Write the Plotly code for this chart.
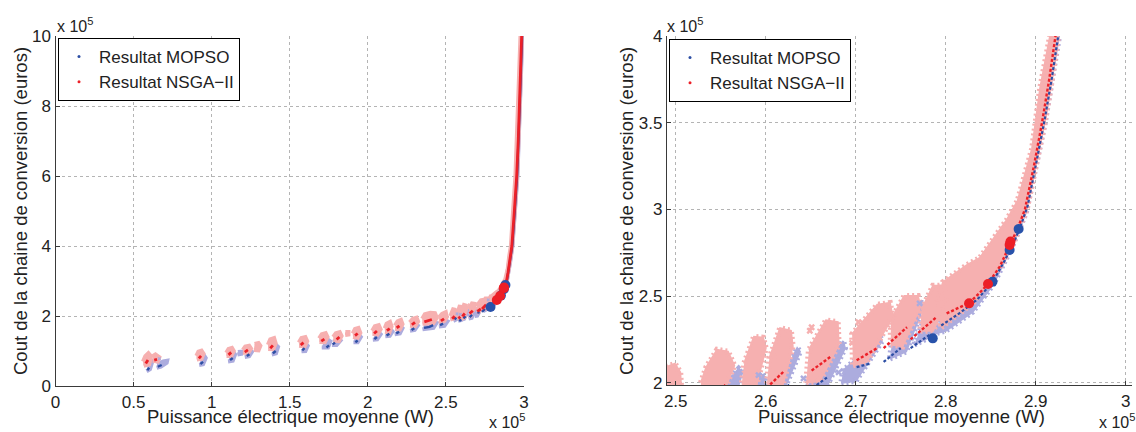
import plotly.graph_objects as go

# ---------------- data (power in 1e5 W, cost in 1e5 euros) ----------------
x_ticks_left = [0, 0.5, 1, 1.5, 2, 2.5, 3]
x_ticklabels_left = ["0", "0.5", "1", "1.5", "2", "2.5", "3"]
y_ticks_left = [0, 2, 4, 6, 8, 10]
y_ticklabels_left = ["0", "2", "4", "6", "8", "10"]
x_ticks_right = [2.5, 2.6, 2.7, 2.8, 2.9, 3.0]
x_ticklabels_right = ["2.5", "2.6", "2.7", "2.8", "2.9", "3"]
y_ticks_right = [2, 2.5, 3, 3.5, 4]
y_ticklabels_right = ["2", "2.5", "3", "3.5", "4"]

series_names = ["Resultat MOPSO", "Resultat NSGA\u2212II"]

# NSGA-II population clouds (outlines of the dense pink point clouds)
nsga_clouds = [
    [(0.565, 0.58), (0.600, 0.62), (0.612, 0.85), (0.595, 0.94), (0.575, 0.85), (0.560, 0.70)],
    [(0.622, 0.72), (0.655, 0.70), (0.665, 0.82), (0.640, 0.90), (0.622, 0.85)],
    [(0.905, 0.76), (0.935, 0.78), (0.948, 0.92), (0.935, 1.01), (0.915, 0.98), (0.902, 0.86)],
    [(1.095, 0.86), (1.125, 0.86), (1.142, 1.00), (1.130, 1.09), (1.108, 1.06), (1.093, 0.95)],
    [(1.200, 0.95), (1.235, 0.95), (1.252, 1.07), (1.240, 1.15), (1.215, 1.13), (1.200, 1.03)],
    [(1.270, 1.03), (1.300, 1.02), (1.312, 1.15), (1.300, 1.23), (1.275, 1.20)],
    [(1.362, 1.06), (1.395, 1.05), (1.410, 1.22), (1.400, 1.37), (1.375, 1.33), (1.360, 1.18)],
    [(1.560, 1.15), (1.595, 1.13), (1.612, 1.28), (1.600, 1.40), (1.575, 1.37), (1.558, 1.24)],
    [(1.690, 1.26), (1.725, 1.25), (1.742, 1.40), (1.730, 1.51), (1.705, 1.48), (1.688, 1.36)],
    [(1.780, 1.30), (1.815, 1.28), (1.832, 1.43), (1.820, 1.54), (1.795, 1.51), (1.778, 1.40)],
    [(1.855, 1.46), (1.876, 1.47), (1.876, 1.54), (1.856, 1.54)],
    [(1.905, 1.40), (1.935, 1.38), (1.952, 1.52), (1.940, 1.66), (1.918, 1.63), (1.903, 1.50)],
    [(2.030, 1.49), (2.062, 1.47), (2.082, 1.62), (2.070, 1.74), (2.045, 1.71), (2.028, 1.58)],
    [(2.110, 1.55), (2.138, 1.53), (2.152, 1.70), (2.142, 1.83), (2.120, 1.78), (2.108, 1.65)],
    [(2.175, 1.63), (2.205, 1.62), (2.222, 1.77), (2.212, 1.89), (2.190, 1.85), (2.173, 1.73)],
    [(2.270, 1.72), (2.302, 1.71), (2.322, 1.84), (2.312, 1.95), (2.288, 1.92), (2.268, 1.82)],
    [(2.350, 1.78), (2.420, 1.80), (2.442, 1.95), (2.430, 2.08), (2.400, 2.09), (2.365, 2.05), (2.348, 1.92)],
    [(2.455, 1.80), (2.490, 1.86), (2.506, 1.97), (2.505, 2.06), (2.499, 2.11), (2.475, 2.06), (2.455, 1.96)],
    [(2.528, 1.90), (2.552, 1.93), (2.565, 2.10), (2.558, 2.18), (2.546, 2.19), (2.534, 2.09), (2.528, 2.00)],
    [(2.572, 1.93), (2.588, 1.95), (2.600, 2.20), (2.597, 2.26), (2.587, 2.265), (2.576, 2.11)],
    [(2.600, 1.92), (2.617, 1.95), (2.630, 2.21), (2.628, 2.30), (2.616, 2.315), (2.604, 2.14)],
    [(2.645, 2.00), (2.660, 2.01), (2.681, 2.22), (2.680, 2.35), (2.667, 2.36), (2.648, 2.19)],
    [(2.697, 2.10), (2.712, 2.12), (2.741, 2.38), (2.738, 2.46), (2.724, 2.45), (2.696, 2.28)],
    [(2.739, 2.22), (2.752, 2.21), (2.772, 2.44), (2.769, 2.50), (2.754, 2.50), (2.739, 2.36)],
    [(2.772, 2.30), (2.786, 2.30), (2.800, 2.46), (2.798, 2.56), (2.786, 2.56), (2.773, 2.42)],
    [(2.795, 2.32), (2.815, 2.40), (2.830, 2.46), (2.845, 2.56), (2.862, 2.68), (2.876, 2.82),
     (2.890, 3.00), (2.900, 3.25), (2.910, 3.50), (2.918, 3.75), (2.925, 4.00), (2.941, 5.00),
     (2.956, 6.00), (2.973, 8.00), (2.988, 10.2), (2.979, 10.2), (2.962, 8.00), (2.945, 6.00),
     (2.930, 5.00), (2.916, 4.00), (2.905, 3.70), (2.896, 3.35), (2.880, 3.05), (2.868, 2.94),
     (2.842, 2.75), (2.838, 2.72), (2.824, 2.68), (2.797, 2.58), (2.790, 2.45)],
]

# MOPSO swarm clouds (outlines of the lavender point clouds)
mopso_clouds = [
    [(0.583, 0.42), (0.605, 0.48), (0.620, 0.70), (0.610, 0.75), (0.590, 0.60)],
    [(0.648, 0.52), (0.675, 0.55), (0.712, 0.66), (0.715, 0.72), (0.690, 0.70), (0.650, 0.62)],
    [(0.920, 0.60), (0.945, 0.62), (0.962, 0.80), (0.950, 0.88), (0.930, 0.76)],
    [(1.105, 0.70), (1.135, 0.72), (1.150, 0.90), (1.138, 0.96), (1.115, 0.83)],
    [(1.165, 0.90), (1.190, 0.92), (1.192, 0.98), (1.168, 0.97)],
    [(1.212, 0.83), (1.240, 0.85), (1.258, 0.98), (1.245, 1.02), (1.222, 0.92)],
    [(1.385, 0.90), (1.412, 0.93), (1.425, 1.12), (1.410, 1.18), (1.392, 1.05)],
    [(1.575, 0.99), (1.600, 1.00), (1.615, 1.15), (1.605, 1.20), (1.582, 1.10)],
    [(1.705, 1.10), (1.745, 1.10), (1.760, 1.27), (1.745, 1.32), (1.715, 1.22)],
    [(1.770, 1.17), (1.800, 1.17), (1.825, 1.30), (1.810, 1.36), (1.780, 1.27)],
    [(1.908, 1.25), (1.935, 1.25), (1.955, 1.40), (1.945, 1.45), (1.915, 1.35)],
    [(2.032, 1.32), (2.060, 1.33), (2.082, 1.48), (2.070, 1.53), (2.040, 1.42)],
    [(2.112, 1.42), (2.140, 1.43), (2.158, 1.56), (2.148, 1.61), (2.120, 1.52)],
    [(2.172, 1.48), (2.205, 1.50), (2.222, 1.65), (2.210, 1.70), (2.182, 1.58)],
    [(2.270, 1.58), (2.300, 1.60), (2.320, 1.73), (2.308, 1.78), (2.280, 1.67)],
    [(2.350, 1.62), (2.420, 1.66), (2.440, 1.80), (2.420, 1.84), (2.360, 1.75)],
    [(2.455, 1.70), (2.490, 1.72), (2.510, 1.85), (2.495, 1.88), (2.462, 1.80)],
    [(2.548, 1.86), (2.565, 1.90), (2.574, 2.06), (2.570, 2.08), (2.556, 2.00), (2.548, 1.95)],
    [(2.578, 1.86), (2.596, 1.88), (2.600, 2.03), (2.592, 2.06), (2.582, 1.96)],
    [(2.607, 1.90), (2.617, 1.92), (2.638, 2.18), (2.635, 2.20), (2.624, 2.08), (2.609, 2.00)],
    [(2.645, 1.93), (2.665, 1.95), (2.688, 2.20), (2.686, 2.24), (2.670, 2.12), (2.650, 2.04)],
    [(2.684, 2.00), (2.700, 2.01), (2.729, 2.24), (2.726, 2.28), (2.708, 2.17), (2.686, 2.07)],
    [(2.738, 2.14), (2.756, 2.18), (2.775, 2.44), (2.772, 2.47), (2.760, 2.35), (2.740, 2.22)],
    [(2.765, 2.22), (2.785, 2.27), (2.796, 2.42), (2.794, 2.45), (2.776, 2.36)],
    [(2.785, 2.28), (2.800, 2.30), (2.830, 2.41), (2.853, 2.57), (2.874, 2.79), (2.889, 2.98),
     (2.910, 3.50), (2.926, 4.00), (2.958, 6.00), (2.990, 10.1), (2.984, 10.1), (2.953, 6.00),
     (2.920, 4.00), (2.905, 3.50), (2.885, 3.00), (2.870, 2.80), (2.845, 2.58), (2.820, 2.45),
     (2.795, 2.36)],
]

# non-dominated fronts
nsga_front = [
    [(0.578, 0.64), (0.592, 0.74)], [(0.632, 0.74), (0.650, 0.76)], [(0.918, 0.79), (0.932, 0.86)],
    [(1.108, 0.89), (1.125, 0.96)], [(1.212, 0.97), (1.232, 1.03)], [(1.375, 1.08), (1.392, 1.16)],
    [(1.570, 1.17), (1.588, 1.24)], [(1.702, 1.28), (1.722, 1.34)], [(1.800, 1.33), (1.818, 1.40)],
    [(1.918, 1.44), (1.935, 1.50)], [(2.040, 1.50), (2.058, 1.57)], [(2.122, 1.58), (2.140, 1.64)],
    [(2.185, 1.66), (2.202, 1.72)], [(2.282, 1.75), (2.302, 1.82)],
    [(2.362, 1.83), (2.385, 1.86), (2.410, 1.90)], [(2.468, 1.86), (2.488, 1.92)],
    [(2.540, 1.92), (2.556, 1.99)], [(2.580, 1.93), (2.592, 1.98)], [(2.605, 1.99), (2.621, 2.07)],
    [(2.651, 2.07), (2.672, 2.15)], [(2.701, 2.13), (2.724, 2.20)], [(2.731, 2.20), (2.757, 2.32)],
    [(2.761, 2.25), (2.790, 2.38)],
    [(2.801, 2.40), (2.826, 2.46), (2.838, 2.52), (2.847, 2.57), (2.860, 2.67), (2.872, 2.80),
     (2.880, 2.89), (2.888, 3.00), (2.898, 3.25), (2.907, 3.50), (2.915, 3.75), (2.922, 4.00),
     (2.938, 5.00), (2.953, 6.00), (2.963, 7.00), (2.970, 8.00), (2.978, 9.00), (2.985, 10.0)],
]
mopso_front = [
    [(0.588, 0.45), (0.600, 0.52)], [(0.655, 0.55), (0.680, 0.60)], [(0.928, 0.63), (0.945, 0.69)],
    [(1.118, 0.74), (1.135, 0.80)], [(1.225, 0.86), (1.242, 0.91)], [(1.392, 0.93), (1.410, 1.00)],
    [(1.580, 1.02), (1.595, 1.08)], [(1.735, 1.10), (1.752, 1.16)], [(1.775, 1.19), (1.790, 1.24)],
    [(1.920, 1.25), (1.935, 1.30)], [(2.042, 1.34), (2.058, 1.40)], [(2.120, 1.44), (2.138, 1.49)],
    [(2.182, 1.50), (2.200, 1.55)], [(2.280, 1.60), (2.298, 1.65)],
    [(2.360, 1.66), (2.395, 1.69), (2.418, 1.74)], [(2.462, 1.74), (2.482, 1.78)],
    [(2.555, 1.90), (2.566, 1.96)], [(2.585, 1.86), (2.598, 1.90)], [(2.612, 1.93), (2.626, 1.99)],
    [(2.652, 1.97), (2.668, 2.03)], [(2.701, 2.09), (2.716, 2.11)], [(2.731, 2.12), (2.750, 2.20)],
    [(2.761, 2.20), (2.783, 2.28)],
    [(2.795, 2.33), (2.815, 2.40), (2.835, 2.48), (2.852, 2.58), (2.865, 2.70), (2.875, 2.80),
     (2.883, 2.90), (2.891, 3.02), (2.901, 3.28), (2.910, 3.52), (2.918, 3.76), (2.925, 4.00),
     (2.941, 5.00), (2.956, 6.00), (2.973, 8.00), (2.988, 10.0)],
]

# isolated evaluated points
nsga_stray_x = [2.608, 2.649, 2.696, 2.651, 2.703]
nsga_stray_y = [2.15, 2.30, 2.23, 2.32, 2.35]
mopso_stray_x = [2.642, 2.592, 2.571, 2.681, 2.688, 2.771, 0.665]
mopso_stray_y = [2.025, 2.044, 2.063, 2.060, 2.065, 2.458, 0.78]

# highlighted solutions
mopso_sel_x = [2.7856, 2.852, 2.871, 2.881]
mopso_sel_y = [2.256, 2.583, 2.766, 2.887]
nsga_sel_x = [2.826, 2.847, 2.871, 2.872]
nsga_sel_y = [2.458, 2.570, 2.795, 2.814]

# ---------------- styling ----------------
FONT = "Liberation Sans, Arial, Helvetica, sans-serif"
PINK = "rgb(246,176,176)"
LAV = "rgb(172,172,222)"
RED = "rgb(236,32,40)"
BLUE = "rgb(44,78,164)"
BIGBLUE = "rgb(40,82,170)"
BIGRED = "rgb(236,30,38)"
TXT = "#222222"


def flatten(polys, close=False):
    xs, ys = [], []
    for poly in polys:
        pts = list(poly) + ([poly[0]] if close else [])
        for a, b in pts:
            xs.append(a)
            ys.append(b)
        xs.append(None)
        ys.append(None)
    return xs, ys


nc_x, nc_y = flatten(nsga_clouds)
mc_x, mc_y = flatten(mopso_clouds)
ncc_x, ncc_y = flatten(nsga_clouds, close=True)
mcc_x, mcc_y = flatten(mopso_clouds, close=True)
nf_x, nf_y = flatten(nsga_front)
mf_x, mf_y = flatten(mopso_front)

fig = go.Figure()

for ax, ay, legname, right in [("x", "y", "legend", False), ("x2", "y2", "legend2", True)]:
    edge = 2 if right else 4
    fig.add_trace(go.Scatter(x=mc_x, y=mc_y, mode="lines", fill="toself", fillcolor=LAV,
                             line=dict(width=edge, color=LAV), showlegend=False,
                             hoverinfo="skip", xaxis=ax, yaxis=ay))
    if right:
        # speckled fringe of the swarm cloud
        fig.add_trace(go.Scatter(x=mcc_x, y=mcc_y, mode="lines",
                                 line=dict(width=6, color=LAV, dash="2px,3px"),
                                 showlegend=False, hoverinfo="skip", xaxis=ax, yaxis=ay))
    fig.add_trace(go.Scatter(x=nc_x, y=nc_y, mode="lines", fill="toself", fillcolor=PINK,
                             line=dict(width=edge, color=PINK), showlegend=False,
                             hoverinfo="skip", xaxis=ax, yaxis=ay))
    if right:
        fig.add_trace(go.Scatter(x=ncc_x, y=ncc_y, mode="lines",
                                 line=dict(width=6, color=PINK, dash="2px,3px"),
                                 showlegend=False, hoverinfo="skip", xaxis=ax, yaxis=ay))
    fig.add_trace(go.Scatter(x=mopso_stray_x, y=mopso_stray_y, mode="markers",
                             marker=dict(symbol="x", size=6 if right else 3, color=LAV),
                             showlegend=False, hoverinfo="skip", xaxis=ax, yaxis=ay))
    fig.add_trace(go.Scatter(x=nsga_stray_x, y=nsga_stray_y, mode="markers",
                             marker=dict(symbol="x", size=6 if right else 3, color=PINK),
                             showlegend=False, hoverinfo="skip", xaxis=ax, yaxis=ay))
    fig.add_trace(go.Scatter(x=mf_x, y=mf_y, mode="lines",
                             line=dict(color=BLUE, width=2.2 if right else 2.4,
                                       dash="3px,2px" if right else "solid"),
                             showlegend=False, hoverinfo="skip", xaxis=ax, yaxis=ay))
    fig.add_trace(go.Scatter(x=nf_x, y=nf_y, mode="lines",
                             line=dict(color=RED, width=2.4 if right else 2.8,
                                       dash="3px,2px" if right else "solid"),
                             showlegend=False, hoverinfo="skip", xaxis=ax, yaxis=ay))
    fig.add_trace(go.Scatter(x=mopso_sel_x, y=mopso_sel_y, mode="markers",
                             marker=dict(size=10, color=BIGBLUE), showlegend=False,
                             hoverinfo="skip", xaxis=ax, yaxis=ay))
    fig.add_trace(go.Scatter(x=nsga_sel_x, y=nsga_sel_y, mode="markers",
                             marker=dict(size=10, color=BIGRED), showlegend=False,
                             hoverinfo="skip", xaxis=ax, yaxis=ay))
    # legend entries
    fig.add_trace(go.Scatter(x=[None], y=[None], mode="markers", name=series_names[0],
                             marker=dict(size=3, color=BLUE), legend=legname, xaxis=ax, yaxis=ay))
    fig.add_trace(go.Scatter(x=[None], y=[None], mode="markers", name=series_names[1],
                             marker=dict(size=3, color=RED), legend=legname, xaxis=ax, yaxis=ay))

axis_common = dict(showline=True, linecolor="#3a3a3a", linewidth=1.3, ticks="inside",
                   ticklen=4, tickcolor="#3a3a3a", showgrid=True, gridcolor="#b4b4b4",
                   griddash="dot", gridwidth=1, zeroline=False, mirror=False,
                   tickfont=dict(size=17, color=TXT, family=FONT), automargin=False)

legend_common = dict(xanchor="left", yanchor="top", bgcolor="white", bordercolor="black",
                     borderwidth=1, font=dict(size=17, family=FONT, color=TXT),
                     tracegroupgap=0, itemwidth=30)

fig.update_layout(
    width=1136, height=432, margin=dict(l=0, r=0, t=0, b=0),
    paper_bgcolor="white", plot_bgcolor="white",
    font=dict(family=FONT, color=TXT),
    xaxis=dict(domain=[55.5 / 1136, 524 / 1136], range=[0, 3], tickvals=x_ticks_left,
               ticktext=x_ticklabels_left, anchor="y", **axis_common),
    yaxis=dict(domain=[1 - 386 / 432, 1 - 36 / 432], range=[0, 10], tickvals=y_ticks_left,
               ticktext=y_ticklabels_left, anchor="x", **axis_common),
    xaxis2=dict(domain=[667 / 1136, 1132 / 1136], range=[2.4903, 3.007], tickvals=x_ticks_right,
                ticktext=x_ticklabels_right, anchor="y2", **axis_common),
    yaxis2=dict(domain=[1 - 385 / 432, 1 - 36 / 432], range=[1.987, 4.0], tickvals=y_ticks_right,
                ticktext=y_ticklabels_right, anchor="x2", **axis_common),
    legend=dict(x=58 / 1136, y=1 - 38 / 432, **legend_common),
    legend2=dict(x=669 / 1136, y=1 - 39 / 432, **legend_common),
)

ann = []
ylabel = "Cout de la chaine de conversion (euros)"
xlabel = "Puissance électrique moyenne (W)"
for xc, yc, txt, ang in [(20, 211, ylabel, -90), (626, 211, ylabel, -90),
                         (290, 416, xlabel, 0), (901, 416, xlabel, 0)]:
    ann.append(dict(x=xc / 1136, y=1 - yc / 432, xref="paper", yref="paper", text=txt,
                    textangle=ang, showarrow=False, font=dict(size=18.5, family=FONT, color=TXT),
                    xanchor="center", yanchor="middle"))
for xl, yl, xa, ya in [(55, 37, "left", "bottom"), (665, 37, "left", "bottom"),
                       (527, 433, "right", "bottom"), (1137, 433, "right", "bottom")]:
    ann.append(dict(x=xl / 1136, y=1 - yl / 432, xref="paper", yref="paper",
                    text="x 10<sup>5</sup>", showarrow=False,
                    font=dict(size=16, family=FONT, color=TXT), xanchor=xa, yanchor=ya))
fig.update_layout(annotations=ann)

fig.write_html("out.html", config={"displayModeBar": False},
               post_script="document.body.style.margin='0px';")
